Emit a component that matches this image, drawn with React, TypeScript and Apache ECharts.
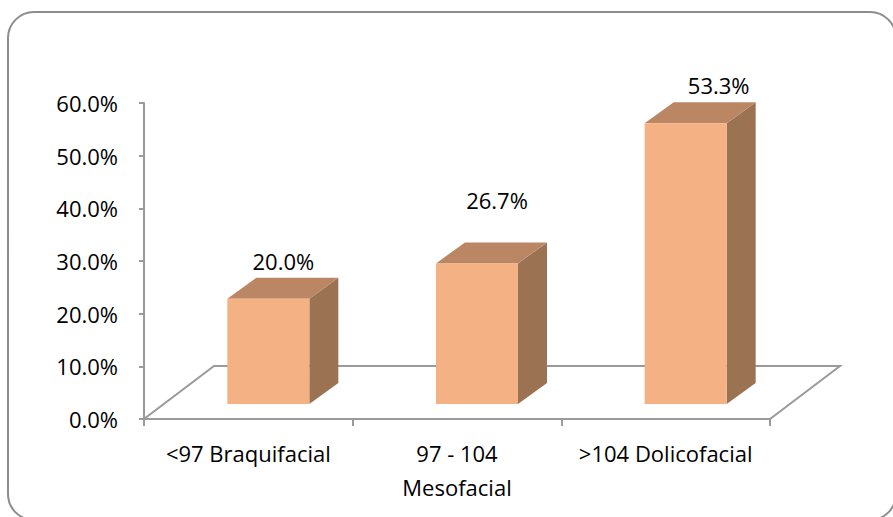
import React, { useEffect, useRef } from "react";
import * as echarts from "echarts";

const CATEGORIES = ["<97 Braquifacial", "97 - 104\nMesofacial", ">104 Dolicofacial"];
const VALUES = [20.0, 26.7, 53.3];
const Y_TICKS = { min: 0, max: 60, interval: 10 };

// styling / layout constants
const FONT = "Open Sans";
const FONT_SIZE = 22;
const FRONT = "#F4B183";
const TOP = "#BB8663";
const SIDE = "#9C7352";
const LINE = "#9a9a9a";
const FLOOR_DX = 70;
const FLOOR_DY = 53;
const BAR_RATIO = 0.393;
const FRONT_DX = 20;
const FRONT_DY = 15;
const BAR_DX = 29;
const BAR_DY = 21;
const LABEL_NUDGE = [
  [15, -17],
  [20, -42],
  [33, -17],
];

export default function App() {
  const ref = useRef<HTMLDivElement>(null);
  useEffect(() => {
    if (!ref.current) return;
    const chart = echarts.init(ref.current, null, { renderer: "svg" });
    chart.setOption({
      animation: false,
      backgroundColor: "#fff",
      textStyle: { fontFamily: FONT },
      grid: { left: 144, right: 123, top: 103, bottom: 98 },
      graphic: [
        {
          type: "rect",
          shape: { x: 8, y: 12, width: 888, height: 508, r: 26 },
          style: { fill: "none", stroke: "#8c8c8c", lineWidth: 2 },
          silent: true,
          z: -1,
        },
      ],
      xAxis: {
        type: "category",
        data: CATEGORIES,
        boundaryGap: true,
        axisLine: { show: false },
        axisTick: { show: true, length: 7, lineStyle: { color: LINE, width: 2 } },
        axisLabel: {
          interval: 0,
          fontSize: FONT_SIZE,
          lineHeight: 34,
          margin: 17,
          color: "#000",
          fontFamily: FONT,
        },
        splitLine: { show: false },
      },
      yAxis: {
        type: "value",
        min: Y_TICKS.min,
        max: Y_TICKS.max,
        interval: Y_TICKS.interval,
        axisLine: { show: true, lineStyle: { color: LINE, width: 2 } },
        axisTick: { show: true, length: 5, lineStyle: { color: LINE, width: 2 } },
        splitLine: { show: false },
        axisLabel: {
          formatter: (v: number) => v.toFixed(1) + "%",
          fontSize: FONT_SIZE,
          margin: 26,
          color: "#000",
          fontFamily: FONT,
        },
      },
      series: [
        {
          type: "custom",
          silent: true,
          z: 1,
          data: [[0, 0]],
          renderItem: (params: any) => {
            const cs = params.coordSys;
            const bx = cs.x;
            const by = cs.y + cs.height;
            return {
              type: "polygon",
              shape: {
                points: [
                  [bx, by],
                  [bx + cs.width, by],
                  [bx + cs.width + FLOOR_DX, by - FLOOR_DY],
                  [bx + FLOOR_DX, by - FLOOR_DY],
                ],
              },
              style: { fill: "#fff", stroke: LINE, lineWidth: 2 },
            };
          },
        },
        {
          type: "custom",
          silent: true,
          z: 2,
          encode: { x: 0, y: 1 },
          data: VALUES.map((v, i) => [i, v]),
          renderItem: (params: any, api: any) => {
            const i = api.value(0);
            const v = api.value(1);
            const base = api.coord([i, 0]);
            const top = api.coord([i, v]);
            const band = api.size([1, 0])[0];
            const w = band * BAR_RATIO;
            const x0 = base[0] - w / 2 + FRONT_DX;
            const yb = base[1] - FRONT_DY;
            const yt = top[1] - FRONT_DY;
            const nudge = LABEL_NUDGE[params.dataIndex] || [20, -17];
            return {
              type: "group",
              children: [
                {
                  type: "polygon",
                  shape: {
                    points: [
                      [x0 + w, yt],
                      [x0 + w + BAR_DX, yt - BAR_DY],
                      [x0 + w + BAR_DX, yb - BAR_DY],
                      [x0 + w, yb],
                    ],
                  },
                  style: { fill: SIDE },
                },
                {
                  type: "polygon",
                  shape: {
                    points: [
                      [x0, yt],
                      [x0 + w, yt],
                      [x0 + w + BAR_DX, yt - BAR_DY],
                      [x0 + BAR_DX, yt - BAR_DY],
                    ],
                  },
                  style: { fill: TOP },
                },
                {
                  type: "rect",
                  shape: { x: x0, y: yt, width: w, height: yb - yt },
                  style: { fill: FRONT },
                },
                {
                  type: "text",
                  x: x0 + w / 2 + nudge[0],
                  y: yt - BAR_DY + nudge[1],
                  style: {
                    text: v.toFixed(1) + "%",
                    fontSize: FONT_SIZE,
                    fontFamily: FONT,
                    fill: "#000",
                    textAlign: "center",
                    textVerticalAlign: "middle",
                  },
                },
              ],
            };
          },
        },
      ],
    });
    return () => chart.dispose();
  }, []);
  return (
    <div
      ref={ref}
      style={{ position: "fixed", left: 0, top: 0, width: 893, height: 517 }}
    />
  );
}
